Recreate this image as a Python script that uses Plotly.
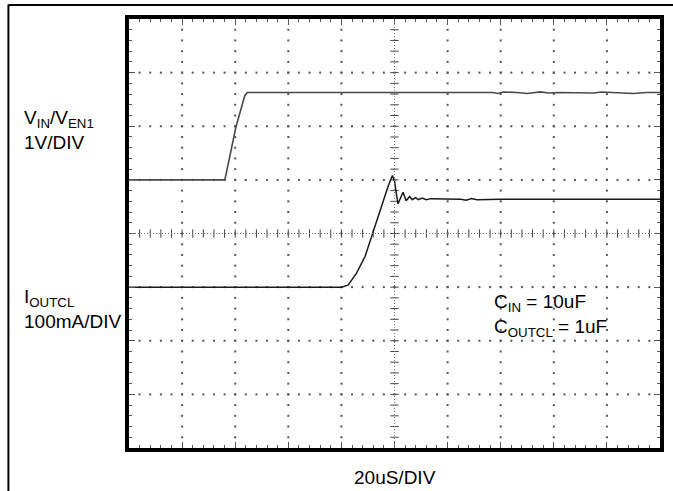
import plotly.graph_objects as go

# ---- data (time in microseconds, vertical position in screen divisions) ----
v_time = [0, 36.1, 40.3, 42.9, 43.6, 44.5, 60, 80, 100, 120, 137, 139, 141, 146, 150, 155, 158, 162, 170, 175, 178, 185, 190, 195, 200]
v_level = [5.0, 5.0, 5.99, 6.45, 6.57, 6.63, 6.63, 6.63, 6.63, 6.63, 6.63, 6.61, 6.64, 6.63, 6.61, 6.64, 6.62, 6.63, 6.63, 6.62, 6.64, 6.63, 6.61, 6.63, 6.63]

i_time = [0, 80.1, 82.6, 85.7, 88.9, 91.3, 95.1, 97.6, 99.2, 100.0, 101.3, 103.2, 104.4, 105.7, 106.7, 107.9, 109.0, 110.4, 111.9, 113.8, 125, 127, 129, 131, 140, 170, 200]
i_level = [3.0, 3.0, 3.04, 3.26, 3.57, 3.94, 4.5, 4.88, 5.08, 4.98, 4.55, 4.77, 4.61, 4.69, 4.63, 4.67, 4.63, 4.66, 4.63, 4.65, 4.64, 4.62, 4.65, 4.63, 4.64, 4.64, 4.64]

x_divisions = 10
y_divisions = 8
us_per_div = 20

W, H = 673, 491
L, R, T, B = 129, 664, 19, 448  # plot area in pixels


def px(x):
    return (x - L) / (R - L)


def py(y):
    return (B - y) / (B - T)


fig = go.Figure()

xmax = x_divisions * us_per_div
# dotted graticule
gx, gy = [], []
for k in range(1, x_divisions):
    if k == x_divisions // 2:
        continue
    for m in range(1, y_divisions * 5):
        gx.append(k * us_per_div)
        gy.append(m * 0.2)
for j in range(1, y_divisions):
    if j == y_divisions // 2:
        continue
    for m in range(1, x_divisions * 5):
        gx.append(m * us_per_div / 5)
        gy.append(j)
fig.add_trace(go.Scatter(x=gx, y=gy, mode="markers", hoverinfo="skip",
                         marker=dict(symbol="square", size=2, color="#555", line=dict(width=0))))

# center crosshair
fig.add_shape(type="line", x0=0, x1=xmax, y0=y_divisions / 2, y1=y_divisions / 2,
              line=dict(color="#777", width=1, dash="1px,2px"))
fig.add_shape(type="line", x0=xmax / 2, x1=xmax / 2, y0=0, y1=y_divisions,
              line=dict(color="#777", width=1, dash="1px,2px"))
cx = [m * us_per_div / 5 for m in range(1, x_divisions * 5)]
fig.add_trace(go.Scatter(x=cx, y=[y_divisions / 2] * len(cx), mode="markers", hoverinfo="skip",
                         marker=dict(symbol="line-ns", size=6, line=dict(color="#444", width=1))))
cy = [m * 0.2 for m in range(1, y_divisions * 5)]
fig.add_trace(go.Scatter(x=[xmax / 2] * len(cy), y=cy, mode="markers", hoverinfo="skip",
                         marker=dict(symbol="line-ew", size=6, line=dict(color="#444", width=1))))

# traces
fig.add_trace(go.Scatter(x=v_time, y=v_level, mode="lines", line=dict(color="#4a4a4a", width=1.6)))
fig.add_trace(go.Scatter(x=i_time, y=i_level, mode="lines", line=dict(color="#1a1a1a", width=1.5)))

font = dict(family="Liberation Sans, Arial, sans-serif", size=19, color="black")
texts = [
    ("V<sub>IN</sub>/V<sub>EN1</sub>", 21, 119, "left"),
    ("1V/DIV", 21, 142.5, "left"),
    ("I<sub>OUTCL</sub>", 21, 298, "left"),
    ("100mA/DIV", 21, 321.5, "left"),
    ("C<sub>IN</sub> = 10uF", 495, 303, "left"),
    ("C<sub>OUTCL</sub> = 1uF", 495, 327.5, "left"),
    ("20uS/DIV", 397, 477, "center"),
]
for t, x, y, anc in texts:
    fig.add_annotation(text=t, x=px(x), y=py(y), xref="paper", yref="paper",
                       xanchor=anc, yanchor="middle", showarrow=False, font=font)

# outer page frame
fig.add_shape(type="line", xref="paper", yref="paper", x0=px(7.5), x1=px(7.5), y0=py(4.5), y1=py(495),
              line=dict(color="black", width=2))
fig.add_shape(type="line", xref="paper", yref="paper", x0=px(7.5), x1=px(680), y0=py(5), y1=py(5),
              line=dict(color="black", width=2))

fig.update_xaxes(range=[0, xmax], showgrid=False, zeroline=False, showticklabels=False,
                 showline=True, linewidth=4, linecolor="black", mirror="allticks",
                 ticks="inside", tickmode="linear", tick0=0, dtick=us_per_div, ticklen=6,
                 tickcolor="#555", tickwidth=1,
                 minor=dict(ticks="inside", dtick=us_per_div / 5, ticklen=3, tickcolor="#555", tickwidth=1, showgrid=False))
fig.update_yaxes(range=[0, y_divisions], showgrid=False, zeroline=False, showticklabels=False,
                 showline=True, linewidth=4, linecolor="black", mirror="allticks",
                 ticks="inside", tickmode="linear", tick0=0, dtick=1, ticklen=6,
                 tickcolor="#555", tickwidth=1,
                 minor=dict(ticks="inside", dtick=0.2, ticklen=3, tickcolor="#555", tickwidth=1, showgrid=False))

fig.update_layout(width=W, height=H, margin=dict(l=L, r=W - R, t=T, b=H - B),
                  paper_bgcolor="white", plot_bgcolor="white", showlegend=False)

fig.write_html("out.html", config={"displayModeBar": False, "staticPlot": True},
               post_script="document.body.style.margin='0px';document.body.style.padding='0px';document.body.style.overflow='hidden';")
